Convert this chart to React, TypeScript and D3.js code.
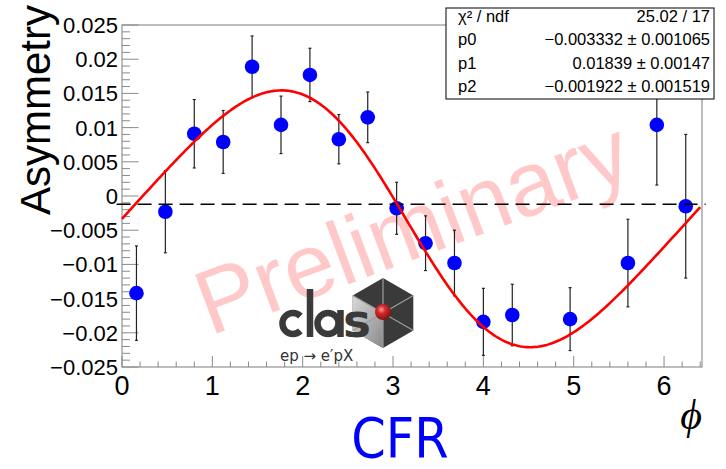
import React from "react";
import * as d3 from "d3";

const W = 726;
const H = 469;

// Bin centres in phi (rad) and measured asymmetry with statistical errors
const phi = [0.16, 0.48, 0.8, 1.12, 1.44, 1.76, 2.08, 2.4, 2.72, 3.04, 3.36, 3.68, 4.0, 4.32, 4.96, 5.6, 5.92, 6.24];
const asym = [-0.0142, -0.0023, 0.0091, 0.0079, 0.0189, 0.0104, 0.0177, 0.0083, 0.0115, -0.0018, -0.0069, -0.0098, -0.0184, -0.0174, -0.018, -0.0098, 0.0104, -0.0015];
const asymErr = [0.0069, 0.006, 0.005, 0.0046, 0.0045, 0.0042, 0.0039, 0.0036, 0.0037, 0.0038, 0.004, 0.0048, 0.0049, 0.0045, 0.0046, 0.0064, 0.0088, 0.0105];

// Fit: p0 + p1 sin(phi) + p2 sin(2 phi)
const p0 = -0.003332;
const p1 = 0.01839;
const p2 = -0.001922;
const fitRange = [0, 6.4];

const baselineLevel = -0.0012;

const statLabels = ["χ² / ndf", "p0", "p1", "p2"];
const statValues = ["25.02 / 17", "−0.003332 ± 0.001065", "0.01839 ± 0.00147", "−0.001922 ± 0.001519"];

const xTicks = [0, 1, 2, 3, 4, 5, 6];
const yTicks = [-0.025, -0.02, -0.015, -0.01, -0.005, 0, 0.005, 0.01, 0.015, 0.02, 0.025];
const yTickLabels = ["−0.025", "−0.02", "−0.015", "−0.01", "−0.005", "0", "0.005", "0.01", "0.015", "0.02", "0.025"];

const SANS = "'Liberation Sans', Arial, Helvetica, sans-serif";

export default function App() {
  const x = d3.scaleLinear().domain([0, 6.42]).range([122, 702]);
  const y = d3.scaleLinear().domain([-0.025, 0.025]).range([367, 25]);

  const fit = (t: number) => p0 + p1 * Math.sin(t) + p2 * Math.sin(2 * t);
  const fitPts = d3.range(fitRange[0], fitRange[1] + 1e-9, 0.02).map((t) => [t, fit(t)] as [number, number]);
  const fitPath = d3
    .line<[number, number]>()
    .x((d) => x(d[0]))
    .y((d) => y(d[1]))(fitPts) as string;

  const xMinor = d3.range(0, 6.42, 0.2).map((v) => +v.toFixed(2));
  const yMinor = d3.range(-0.025, 0.02501, 0.001).map((v) => +v.toFixed(3));

  const [x0, x1] = x.range();
  const [yb, yt] = y.range();

  // CLAS logo geometry (hexagon centre, radius)
  const hc = { x: 383, y: 313 };
  const hr = 35;
  const hexPts = d3.range(6).map((i) => {
    const a = (-90 + i * 60) * (Math.PI / 180);
    return [hc.x + hr * Math.cos(a), hc.y + hr * Math.sin(a)] as [number, number];
  });

  return (
    <svg width={W} height={H} style={{ position: "absolute", left: 0, top: 0, background: "#fff" }} fontFamily={SANS}>
      <defs>
        <radialGradient id="ball" cx="0.4" cy="0.35" r="0.7">
          <stop offset="0" stopColor="#ff9a9a" />
          <stop offset="0.35" stopColor="#d42a2a" />
          <stop offset="1" stopColor="#7a0f0f" />
        </radialGradient>
        <linearGradient id="face" x1="0" y1="0" x2="1" y2="1">
          <stop offset="0" stopColor="#d8d8d8" />
          <stop offset="1" stopColor="#8a8a8a" />
        </linearGradient>
      </defs>

      <rect width={W} height={H} fill="#fff" />

      {/* frame */}
      <rect x={x0} y={yt} width={x1 - x0} height={yb - yt} fill="none" stroke="#9a9a9a" strokeWidth={1.3} />

      {/* y ticks */}
      {yMinor.map((v, i) => {
        const major = Math.abs(Math.round(v / 0.005) * 0.005 - v) < 1e-6;
        return (
          <line key={"ym" + i} x1={x0} x2={x0 + (major ? 16.5 : 8)} y1={y(v)} y2={y(v)} stroke="#8a8a8a" strokeWidth={1} />
        );
      })}
      {/* x ticks */}
      {xMinor.map((v, i) => {
        const major = Math.abs(Math.round(v) - v) < 1e-6;
        return (
          <line key={"xm" + i} x1={x(v)} x2={x(v)} y1={yb} y2={yb - (major ? 11 : 5.5)} stroke="#8a8a8a" strokeWidth={1} />
        );
      })}

      {/* y tick labels */}
      {yTicks.map((v, i) => (
        <text key={"yl" + i} x={118} y={y(v) + 8} fontSize={22} textAnchor="end" fill="#000">
          {yTickLabels[i]}
        </text>
      ))}
      {/* x tick labels */}
      {xTicks.map((v) => (
        <text key={"xl" + v} x={x(v)} y={395} fontSize={27} textAnchor="middle" fill="#000">
          {v}
        </text>
      ))}

      {/* y title */}
      <text transform="translate(50,215) rotate(-90)" fontSize={42} fill="#000">
        Asymmetry
      </text>

      {/* x title */}
      <text x={691} y={429} fontSize={42} fontStyle="italic" textAnchor="middle" fontFamily="'Liberation Serif', 'Times New Roman', serif">
        ϕ
      </text>

      <text x={400} y={457} fontSize={55} textAnchor="middle" fill="#0000ff" fontFamily="'Liberation Sans Narrow', 'DejaVu Sans Condensed', sans-serif" style={{ fontStretch: "condensed" }}>
        CFR
      </text>

      {/* watermark */}
      <text transform="translate(210,336) rotate(-20.5)" fontSize={91} fill="#ff0000" fillOpacity={0.21}>
        Preliminary
      </text>

      {/* CLAS logo */}
      <g>
        <polygon points={hexPts.map((p) => p.join(",")).join(" ")} fill="#3a3a3a" />
        <polygon
          points={[hc.x + "," + hc.y, hexPts[5].join(","), hexPts[4].join(","), hexPts[3].join(",")].join(" ")}
          fill="url(#face)"
        />
        {hexPts.map((p, i) => (
          <line key={"hl" + i} x1={hc.x} y1={hc.y} x2={p[0]} y2={p[1]} stroke="#9c9c9c" strokeWidth={1.2} />
        ))}
        <circle cx={hc.x} cy={hc.y - 1} r={8} fill="url(#ball)" />
        <g stroke="#3a3a3a" strokeWidth={6.5} fill="none">
          <path d="M 300.4 316.1 A 10.5 10.5 0 1 0 300.4 330.9" />
          <line x1={310} y1={289} x2={310} y2={337} />
          <circle cx={328} cy={323.5} r={10.5} />
          <line x1={340.5} y1={310} x2={340.5} y2={337} />
        </g>
        <text x={343} y={337} fontSize={47} fontWeight="bold" fill="#3a3a3a" fontFamily="'DejaVu Sans', sans-serif">
          s
        </text>
        <text x={280} y={361} fontSize={15} fill="#333" fontFamily="'DejaVu Sans', sans-serif">
          ep → e′pX
        </text>
      </g>

      {/* error bars */}
      {phi.map((p, i) => (
        <g key={"e" + i} stroke="#222" strokeWidth={1.2}>
          <line x1={x(p)} x2={x(p)} y1={y(asym[i] - asymErr[i])} y2={y(asym[i] + asymErr[i])} />
          <line x1={x(p) - 1.5} x2={x(p) + 1.5} y1={y(asym[i] - asymErr[i])} y2={y(asym[i] - asymErr[i])} />
          <line x1={x(p) - 1.5} x2={x(p) + 1.5} y1={y(asym[i] + asymErr[i])} y2={y(asym[i] + asymErr[i])} />
        </g>
      ))}
      {/* points */}
      {phi.map((p, i) => (
        <circle key={"p" + i} cx={x(p)} cy={y(asym[i])} r={7.3} fill="#0000ff" />
      ))}

      {/* dashed reference line */}
      <line x1={x(-0.06)} x2={x(6.46)} y1={y(baselineLevel)} y2={y(baselineLevel)} stroke="#000" strokeWidth={1.5} strokeDasharray="14 7" />

      {/* fit */}
      <path d={fitPath} fill="none" stroke="#ff0000" strokeWidth={2.6} />

      {/* stats box */}
      <rect x={446} y={8} width={268} height={91} fill="#fff" stroke="#000" strokeWidth={1} />
      {statLabels.map((s, i) => (
        <text key={"sl" + i} x={458} y={22 + i * 23.3} fontSize={16.5} fill="#000">
          {s}
        </text>
      ))}
      {statValues.map((s, i) => (
        <text key={"sv" + i} x={710} y={22 + i * 23.3} fontSize={16.5} fill="#000" textAnchor="end">
          {s}
        </text>
      ))}
    </svg>
  );
}
